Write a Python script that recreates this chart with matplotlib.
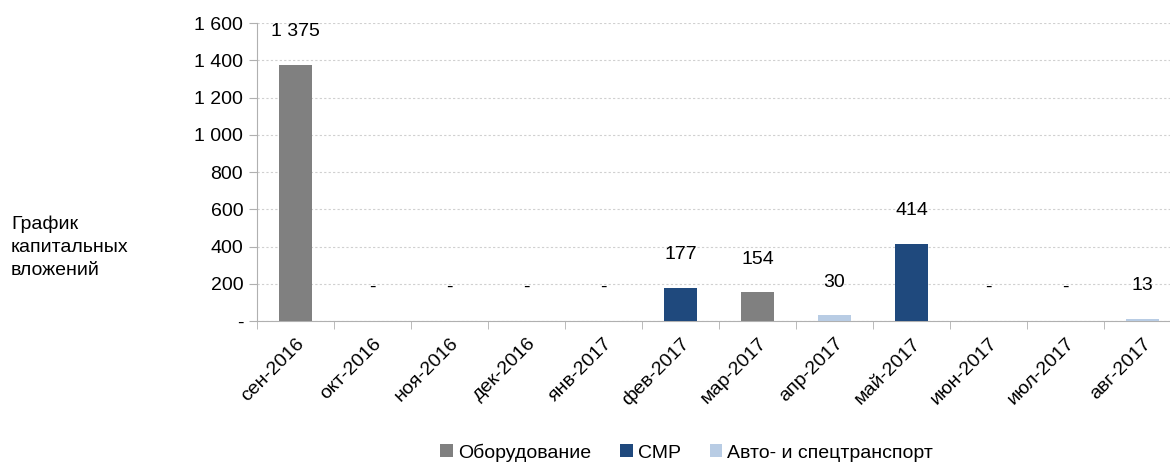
import numpy as np
import matplotlib
matplotlib.use('Agg')
import matplotlib.pyplot as plt
from matplotlib.ticker import FuncFormatter

plt.rcParams['font.family'] = ['Liberation Sans', 'DejaVu Sans']

months = ['сен-2016', 'окт-2016', 'ноя-2016', 'дек-2016', 'янв-2017', 'фев-2017',
          'мар-2017', 'апр-2017', 'май-2017', 'июн-2017', 'июл-2017', 'авг-2017']
equipment = [1375, 0, 0, 0, 0, 0, 154, 0, 0, 0, 0, 0]
smr = [0, 0, 0, 0, 0, 177, 0, 0, 414, 0, 0, 0]
auto = [0, 0, 0, 0, 0, 0, 0, 30, 0, 0, 0, 13]
series_names = ['Оборудование', 'СМР', 'Авто- и спецтранспорт']
colors = ['#808080', '#1F497D', '#B8CCE4']

fig = plt.figure(figsize=(11.7, 4.66), dpi=100)
# правый край оси уходит чуть за край картинки, как в исходнике
ax = fig.add_axes([0.2197, 0.311, 0.7897, 0.6395])

x = np.arange(len(months))
bottom = np.zeros(len(months))
for vals, name, c in zip([equipment, smr, auto], series_names, colors):
    ax.bar(x, vals, 0.44, bottom=bottom, color=c, label=name, zorder=3)
    bottom += np.array(vals)

# подписи итогов над столбцами
for xi, tot in zip(x, bottom):
    txt = '-' if tot == 0 else f'{int(tot):,}'.replace(',', ' ')
    ax.annotate(txt, (xi, tot), xytext=(0, 24), textcoords='offset points',
                ha='center', va='center', fontsize=14)

ax.set_xlim(-0.5, len(months) - 0.5)
ax.set_ylim(0, 1600)
ax.set_yticks(range(0, 1601, 200))
ax.yaxis.set_major_formatter(FuncFormatter(
    lambda v, p: '-' if v == 0 else f'{int(v):,}'.replace(',', ' ')))
ax.grid(axis='y', color='#d0d0d0', linestyle=(0, (2, 2)), linewidth=0.8, zorder=0)

ax.set_xticks(x)
ax.set_xticklabels(months, rotation=45, ha='right', rotation_mode='anchor', fontsize=14)
ax.set_xticks(np.arange(-0.5, len(months)), minor=True)
ax.tick_params(axis='x', which='major', length=0, pad=10)
ax.tick_params(axis='x', which='minor', length=6, color='#b0b0b0', direction='out')
ax.tick_params(axis='y', length=6, color='#b0b0b0', labelsize=14, pad=4)

for s in ['top', 'right']:
    ax.spines[s].set_visible(False)
ax.spines['left'].set_color('#b0b0b0')
ax.spines['bottom'].set_color('#b0b0b0')

fig.text(0.0094, 0.47, 'График\nкапитальных\nвложений', ha='left', va='center',
         fontsize=14, linespacing=1.45)

fig.legend(loc='lower center', bbox_to_anchor=(0.587, -0.028), ncol=3, frameon=False,
           fontsize=14, handlelength=0.65, handleheight=0.65, handletextpad=0.25,
           columnspacing=1.5)

fig.savefig('out.png', dpi=100)
